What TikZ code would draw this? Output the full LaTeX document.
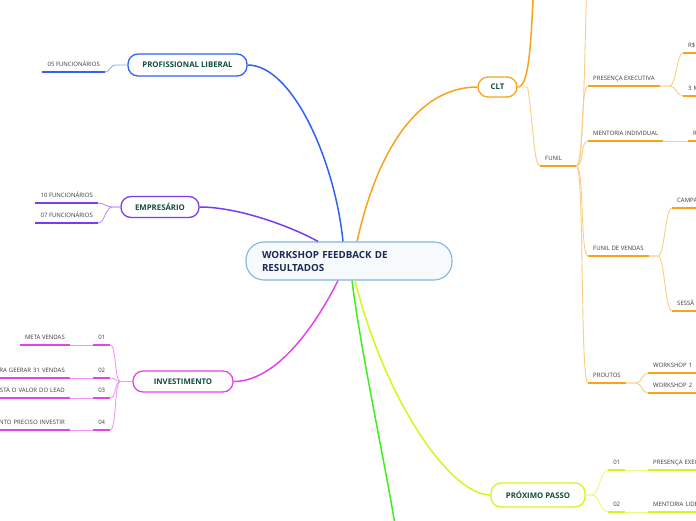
\documentclass[tikz,border=0pt]{standalone}
\usepackage{fontspec}
\setmainfont{Open Sans}
\usetikzlibrary{calc}
\definecolor{mapblue}{HTML}{2F62F5}
\definecolor{mappurple}{HTML}{7A3CF0}
\definecolor{mapmagenta}{HTML}{E642EA}
\definecolor{maporange}{HTML}{F8A21E}
\definecolor{mapyellow}{HTML}{D6F51C}
\definecolor{mapgreen}{HTML}{42EE1C}
\definecolor{centerline}{HTML}{7DB6E2}
\definecolor{centerfill}{HTML}{F6FAFD}
\definecolor{topictext}{HTML}{144E3D}
\definecolor{centertext}{HTML}{1C2B52}
\definecolor{leaftext}{HTML}{3A3A3A}

\begin{document}
\begin{tikzpicture}[
  x=1pt, y=-1pt,
  central/.style={draw=centerline, fill=centerfill, line width=1.1pt, rounded corners=18pt,
    text=centertext, font=\bfseries\fontsize{9.8}{13}\selectfont, align=left,
    text width=174pt, inner xsep=16pt, minimum height=38pt},
  topic/.style={draw=#1, line width=1.3pt, rounded corners=10pt, fill=white,
    text=topictext, font=\bfseries\fontsize{7.8}{9}\selectfont, inner sep=0pt},
  branch/.style={draw=#1, line width=1.5pt},
  twig/.style={draw=#1!55, line width=0.9pt},
  leaf/.style={text=leaftext, font=\fontsize{6}{7}\selectfont, inner xsep=5pt, inner ysep=5pt,
    text height=4.4pt, text depth=0pt,
    append after command={(\tikzlastnode.south west) edge[draw=#1, line width=2pt] (\tikzlastnode.south east)}},
  num/.style={minimum width=17pt},
  cut/.style={text width=60pt, align=left},
  cutleft/.style={text width=80pt, align=right},
]
\useasboundingbox (0,0) rectangle (696,520);
\clip (0,0) rectangle (696,520);

%% Central topic
\node[central] (center) at (349,261) {WORKSHOP FEEDBACK DE\\RESULTADOS};

%% Main topics
\node[topic=mapblue, minimum width=119pt, minimum height=22pt] (liberal) at (187.5,65) {PROFISSIONAL LIBERAL};
\node[topic=mappurple, minimum width=78pt, minimum height=21pt] (boss) at (160,207) {EMPRESÁRIO};
\node[topic=mapmagenta, minimum width=100pt, minimum height=21pt] (invest) at (183,381.5) {INVESTIMENTO};
\node[topic=maporange, minimum width=39pt, minimum height=20pt] (clt) at (497.5,87) {CLT};
\node[topic=mapyellow, minimum width=94pt, minimum height=24pt] (next) at (538,495) {PRÓXIMO PASSO};

%% Off-picture ends
\coordinate (cltup) at (534,-20);
\coordinate (funilup) at (587,-20);
\coordinate (greenend) at (398,545);

%% ---- Profissional liberal ----
\node[leaf=mapblue, anchor=south east] (func05) at (105,72) {05 FUNCIONÁRIOS};

%% ---- Empresario ----
\node[leaf=mappurple, anchor=south east] (func10) at (98,203) {10 FUNCIONÁRIOS};
\node[leaf=mappurple, anchor=south east] (func07) at (98,223) {07 FUNCIONÁRIOS};

%% ---- Investimento ----
\node[leaf=mapmagenta, num, anchor=south west] (inum1) at (93,345) {01};
\node[leaf=mapmagenta, num, anchor=south west] (inum2) at (93,378) {02};
\node[leaf=mapmagenta, num, anchor=south west] (inum3) at (93,398) {03};
\node[leaf=mapmagenta, num, anchor=south west] (inum4) at (93,430) {04};
\node[leaf=mapmagenta, anchor=south east] (itext1) at (70,345) {META VENDAS};
\node[leaf=mapmagenta, cutleft, anchor=south east] (itext2) at (70,378) {ARA GEERAR 31 VENDAS};
\node[leaf=mapmagenta, cutleft, anchor=south east] (itext3) at (70,398) {ESTÁ O VALOR DO LEAD};
\node[leaf=mapmagenta, cutleft, anchor=south east] (itext4) at (70,430) {NTO PRECISO INVESTIR};

%% ---- CLT ----
\node[leaf=maporange, text width=26pt, align=left, anchor=south west] (funil) at (540,166) {FUNIL};
\node[leaf=maporange, anchor=south west] (presenca) at (588,86) {PRESENÇA EXECUTIVA};
\node[leaf=maporange, cut, anchor=south west] (rs) at (683,53) {R\$};
\node[leaf=maporange, cut, anchor=south west] (meses) at (683,96) {3 M};
\node[leaf=maporange, anchor=south west] (mentoria) at (588,141) {MENTORIA INDIVIDUAL};
\node[leaf=maporange, cut, anchor=south west] (mentr) at (688,141) {R};
\node[leaf=maporange, anchor=south west] (funvendas) at (588,256) {FUNIL DE VENDAS};
\node[leaf=maporange, cut, anchor=south west] (campa) at (672,208) {CAMPA};
\node[leaf=maporange, cut, anchor=south west] (sessao) at (672,311) {SESSÃ};
\node[leaf=maporange, anchor=south west] (produtos) at (588,383) {PROUTOS};
\node[leaf=maporange, cut, anchor=south west] (work1) at (648,373) {WORKSHOP 1};
\node[leaf=maporange, cut, anchor=south west] (work2) at (648,393) {WORKSHOP 2};

%% ---- Proximo passo ----
\node[leaf=mapyellow, num, anchor=south west] (pnum1) at (608,470) {01};
\node[leaf=mapyellow, num, anchor=south west] (pnum2) at (608,512) {02};
\node[leaf=mapyellow, cut, anchor=south west] (ptext1) at (648,470) {PRESENÇA EXEC};
\node[leaf=mapyellow, cut, anchor=south west] (ptext2) at (648,512) {MENTORIA LIDE};

%% Branches from the central topic
\draw[branch=mapblue] (liberal.east) .. controls +(45,0) and +(-8,-80) .. ([xshift=-6pt]center.north);
\draw[branch=mappurple] (boss.east) .. controls +(40,0) and +(-25,-14) .. ([xshift=-31pt]center.north);
\draw[branch=mapmagenta] (invest.east) .. controls +(45,0) and +(-20,40) .. ([xshift=-11pt]center.south);
\draw[branch=maporange] ([xshift=8pt]center.north) .. controls +(20,-90) and +(-60,0) .. (clt.west);
\draw[branch=mapyellow] ([xshift=6pt]center.south) .. controls +(30,120) and +(-40,0) .. (next.west);
\draw[branch=mapgreen] ([xshift=3pt]center.south) .. controls +(10,80) and +(-8,-60) .. (greenend);

%% Sub-branches, left side
\draw[twig=mapblue] (liberal.west) -- ++(-12,0) .. controls +(-5,0) and +(5,0) .. (func05.south east);
\draw[twig=mappurple] (boss.west) -- ++(-8,0) .. controls +(-7,0) and +(7,0) .. (func10.south east);
\draw[twig=mappurple] (boss.west) -- ++(-8,0) .. controls +(-7,0) and +(7,0) .. (func07.south east);
\foreach \n in {1,...,4}{
  \draw[twig=mapmagenta] (invest.west) -- ++(-12,0) .. controls +(-6,0) and +(6,0) .. (inum\n.south east);
  \draw[twig=mapmagenta] (inum\n.south west) -- (itext\n.south east);
}

%% Sub-branches, CLT
\draw[branch=maporange] (clt.east) .. controls +(12,0) and +(-3,60) .. (cltup);
\draw[twig=maporange] (clt.east) -- ++(10,0) .. controls +(6,40) and +(-6,0) .. (funil.south west);
\draw[twig=maporange] (funil.south east) .. controls +(8,0) and +(-2,40) .. (funilup);
\foreach \t in {presenca,mentoria,funvendas,produtos}
  \draw[twig=maporange] (funil.south east) .. controls +(8,0) and +(-8,0) .. (\t.south west);
\draw[twig=maporange] (presenca.south east) -- ++(10,0) .. controls +(6,0) and +(-6,0) .. (rs.south west);
\draw[twig=maporange] (presenca.south east) -- ++(10,0) .. controls +(6,0) and +(-6,0) .. (meses.south west);
\draw[twig=maporange] (mentoria.south east) -- (mentr.south west);
\draw[twig=maporange] (funvendas.south east) -- ++(9,0) .. controls +(7,0) and +(-7,0) .. (campa.south west);
\draw[twig=maporange] (funvendas.south east) -- ++(9,0) .. controls +(7,0) and +(-7,0) .. (sessao.south west);
\draw[twig=maporange] (produtos.south east) -- ++(10,0) .. controls +(6,0) and +(-6,0) .. (work1.south west);
\draw[twig=maporange] (produtos.south east) -- ++(10,0) .. controls +(6,0) and +(-6,0) .. (work2.south west);

%% Sub-branches, proximo passo
\draw[twig=mapyellow] (next.east) -- ++(6,0) .. controls +(8,0) and +(-8,0) .. (pnum1.south west);
\draw[twig=mapyellow] (next.east) -- ++(6,0) .. controls +(8,0) and +(-8,0) .. (pnum2.south west);
\draw[twig=mapyellow] (pnum1.south east) -- (ptext1.south west);
\draw[twig=mapyellow] (pnum2.south east) -- (ptext2.south west);

\end{tikzpicture}
\end{document}
